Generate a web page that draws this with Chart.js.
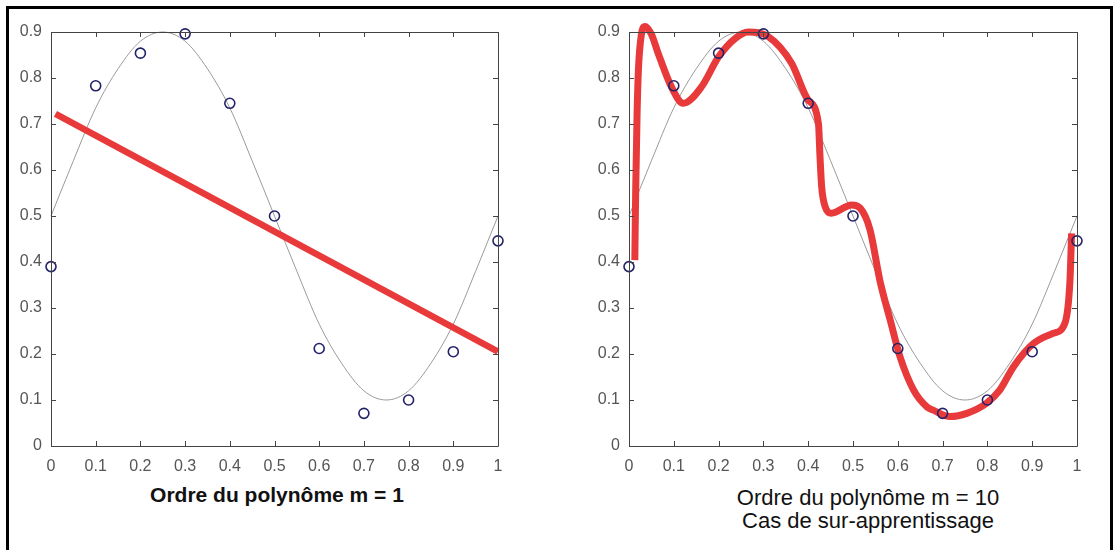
<!DOCTYPE html>
<html>
<head>
<meta charset="utf-8">
<script src="https://cdn.jsdelivr.net/npm/chart.js@4.4.1/dist/chart.umd.min.js"></script>
<style>
  body { margin: 0; width: 1113px; height: 550px; background: #fff; overflow: hidden; position: relative; font-family: 'Liberation Sans', Arial, sans-serif; }
  .panel { position: absolute; top: 0; height: 480px; }
  .frame { position: absolute; left: 6px; top: 6px; width: 1107px; height: 600px; border: 3px solid #000; box-sizing: border-box; pointer-events: none; }
  .caption { position: absolute; text-align: center; color: #111; white-space: nowrap; }
</style>
</head>
<body>
<div class="panel" style="left:0; width:560px;"><canvas id="chartLeft"></canvas></div>
<div class="panel" style="left:560px; width:553px;"><canvas id="chartRight"></canvas></div>
<div class="caption" style="left:0; width:554px; top:484px; font-size:21px; line-height:21px; font-weight:bold;">Ordre du polynôme m = 1</div>
<div class="caption" style="left:668px; width:400px; top:486px; font-size:22px; line-height:23px;">Ordre du polynôme m = 10<br>Cas de sur-apprentissage</div>
<div class="frame"></div>
<script>
// Data
const xTicks = [0, 0.1, 0.2, 0.3, 0.4, 0.5, 0.6, 0.7, 0.8, 0.9, 1];
const yTicks = [0, 0.1, 0.2, 0.3, 0.4, 0.5, 0.6, 0.7, 0.8, 0.9];

// noisy training points (circles)
const sampleX = [0, 0.1, 0.2, 0.3, 0.4, 0.5, 0.6, 0.7, 0.8, 0.9, 1];
const sampleY = [0.39, 0.783, 0.854, 0.896, 0.745, 0.50, 0.212, 0.071, 0.10, 0.205, 0.446];

// thin grey reference curve
const curveX = [0, 0.05, 0.1, 0.15, 0.2, 0.25, 0.3, 0.35, 0.4, 0.45, 0.5, 0.55, 0.6, 0.65, 0.7, 0.75, 0.8, 0.85, 0.9, 0.95, 1];
const curveY = [0.5, 0.62, 0.735, 0.82, 0.88, 0.9, 0.88, 0.82, 0.735, 0.62, 0.5, 0.38, 0.265, 0.18, 0.12, 0.1, 0.12, 0.18, 0.265, 0.38, 0.5];

// m = 1 fit
const fit1X = [0.01, 1];
const fit1Y = [0.722, 0.205];

// m = 10 fit
const fit10X = [0.013, 0.015, 0.018, 0.021, 0.027, 0.036, 0.05, 0.065, 0.095, 0.121, 0.162, 0.2, 0.237, 0.266, 0.311, 0.363, 0.4, 0.423, 0.426, 0.43, 0.438, 0.452, 0.497, 0.516, 0.538, 0.56, 0.583, 0.605, 0.635, 0.665, 0.679, 0.717, 0.754, 0.798, 0.828, 0.858, 0.903, 0.947, 0.973, 0.984, 0.988];
const fit10Y = [0.404, 0.56, 0.72, 0.817, 0.89, 0.912, 0.895, 0.854, 0.78, 0.745, 0.781, 0.846, 0.886, 0.9, 0.89, 0.832, 0.752, 0.70, 0.636, 0.564, 0.52, 0.506, 0.524, 0.517, 0.47, 0.36, 0.274, 0.194, 0.122, 0.085, 0.078, 0.064, 0.071, 0.093, 0.122, 0.172, 0.223, 0.245, 0.267, 0.354, 0.462];

const FONT = "'Liberation Sans', Arial, sans-serif";
const toPts = (xs, ys) => xs.map((x, i) => ({ x: x, y: ys[i] }));

// box round the axes with ticks pointing inward, like matlab
const boxPlugin = {
    id: 'matlabBox',
    afterDraw(chart) {
        const { ctx, chartArea: a, scales } = chart;
        const len = 5;
        ctx.save();
        ctx.strokeStyle = '#444';
        ctx.lineWidth = 1;
        ctx.beginPath();
        ctx.rect(Math.round(a.left) + 0.5, Math.round(a.top) + 0.5, Math.round(a.right - a.left), Math.round(a.bottom - a.top));
        xTicks.forEach(v => {
            const px = Math.round(scales.x.getPixelForValue(v)) + 0.5;
            ctx.moveTo(px, a.bottom); ctx.lineTo(px, a.bottom - len);
            ctx.moveTo(px, a.top); ctx.lineTo(px, a.top + len);
        });
        yTicks.forEach(v => {
            const py = Math.round(scales.y.getPixelForValue(v)) + 0.5;
            ctx.moveTo(a.left, py); ctx.lineTo(a.left + len, py);
            ctx.moveTo(a.right, py); ctx.lineTo(a.right - len, py);
        });
        ctx.stroke();
        ctx.restore();
    }
};

function makeOptions(padLeft, padRight) {
    const fmt = v => String(Number(v.toFixed(1)));
    return {
        responsive: true,
        maintainAspectRatio: false,
        animation: false,
        layout: { padding: { top: 32, left: padLeft, right: padRight, bottom: 0 } },
        plugins: { legend: { display: false }, tooltip: { enabled: false } },
        scales: {
            x: {
                type: 'linear', min: 0, max: 1,
                grid: { display: false }, border: { display: false },
                ticks: { stepSize: 0.1, autoSkip: false, maxRotation: 0, padding: 3, color: '#555', font: { family: FONT, size: 16 }, callback: fmt },
                afterFit: s => { s.height = 34; }
            },
            y: {
                type: 'linear', min: 0, max: 0.9,
                grid: { display: false }, border: { display: false },
                ticks: { stepSize: 0.1, autoSkip: false, padding: 1, color: '#555', font: { family: FONT, size: 16 }, callback: fmt },
                afterFit: s => { s.width = 51; }
            }
        }
    };
}

function makeDatasets(fitX, fitY, fitWidth) {
    return [
        {
            data: toPts(sampleX, sampleY),
            showLine: false,
            pointRadius: 5, pointBorderWidth: 1.6,
            pointBorderColor: '#22226a', pointBackgroundColor: 'rgba(0,0,0,0)',
            clip: false, order: 0
        },
        {
            data: toPts(fitX, fitY),
            showLine: true, pointRadius: 0,
            borderColor: '#e83a3a', borderWidth: fitWidth,
            cubicInterpolationMode: 'monotone',
            clip: false, order: 1
        },
        {
            data: toPts(curveX, curveY),
            showLine: true, pointRadius: 0,
            borderColor: '#9a9a9a', borderWidth: 1,
            cubicInterpolationMode: 'monotone',
            clip: false, order: 2
        }
    ];
}

new Chart(document.getElementById('chartLeft'), {
    type: 'scatter',
    data: { datasets: makeDatasets(fit1X, fit1Y, 6.5) },
    options: makeOptions(0, 62),
    plugins: [boxPlugin]
});

new Chart(document.getElementById('chartRight'), {
    type: 'scatter',
    data: { datasets: makeDatasets(fit10X, fit10Y, 7) },
    options: makeOptions(18, 36),
    plugins: [boxPlugin]
});
</script>
</body>
</html>
